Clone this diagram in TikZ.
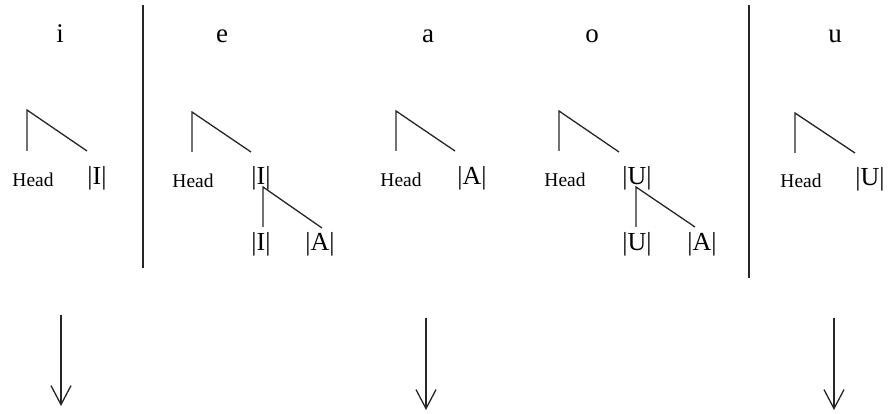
\documentclass[tikz,border=0pt]{standalone}
\usepackage{fontspec}
\setmainfont{Liberation Serif}
\usetikzlibrary{arrows.meta}
\begin{document}
\begin{tikzpicture}[x=1pt,y=-1pt,
  ln/.style={line width=1.3pt,draw=black!85},
  vow/.style={inner sep=0pt,anchor=base,font=\fontsize{27}{30}\selectfont},
  elem/.style={inner sep=0pt,anchor=base,font=\fontsize{26}{30}\selectfont},
  headlbl/.style={inner sep=0pt,anchor=base,font=\fontsize{19.5}{22}\selectfont},
  arr/.style={line width=1.3pt,draw=black!85,-{Straight Barb[length=19pt,width=20pt,line width=1.3pt]}}]
\useasboundingbox (0,0) rectangle (889,414);
% vowel labels
\node[vow] (vi) at (60,43) {i};
\node[vow] (ve) at (222,43) {e};
\node[vow] (va) at (428,43) {a};
\node[vow] (vo) at (592,43) {o};
\node[vow] (vu) at (835,43) {u};
% separators
\coordinate (s1t) at (143,5); \coordinate (s1b) at (143,268);
\coordinate (s2t) at (749,5); \coordinate (s2b) at (749,278);
\draw[ln] (s1t) -- (s1b);
\draw[ln] (s2t) -- (s2b);
% tree i
\coordinate (iT) at (27,110); \coordinate (iL) at (27,151); \coordinate (iR) at (87,151);
\draw[ln] (iL) -- (iT) -- (iR);
\node[headlbl] (iH) at (33,187) {Head};
\node[elem] (iE) at (97,185) {|I|};
% tree e
\coordinate (eT) at (192,112); \coordinate (eL) at (192,152); \coordinate (eR) at (251,152);
\draw[ln] (eL) -- (eT) -- (eR);
\node[headlbl] (eH) at (193,188) {Head};
\node[elem] (eE) at (261,185) {|I|};
\coordinate (eS) at (263,187); \coordinate (eSL) at (263,227); \coordinate (eSR) at (322,228);
\draw[ln] (eSL) -- (eS) -- (eSR);
\node[elem] (eE1) at (261,251) {|I|};
\node[elem] (eE2) at (320,251) {|A|};
% tree a
\coordinate (aT) at (396,111); \coordinate (aL) at (396,151); \coordinate (aR) at (455,151);
\draw[ln] (aL) -- (aT) -- (aR);
\node[headlbl] (aH) at (401,187) {Head};
\node[elem] (aE) at (472,185) {|A|};
% tree o
\coordinate (oT) at (559,111); \coordinate (oL) at (559,151); \coordinate (oR) at (619,152);
\draw[ln] (oL) -- (oT) -- (oR);
\node[headlbl] (oH) at (565,187) {Head};
\node[elem] (oE) at (637,185) {|U|};
\coordinate (oS) at (636,187); \coordinate (oSL) at (636,227); \coordinate (oSR) at (695,227);
\draw[ln] (oSL) -- (oS) -- (oSR);
\node[elem] (oE1) at (637,251) {|U|};
\node[elem] (oE2) at (702,251) {|A|};
% tree u
\coordinate (uT) at (795,113); \coordinate (uL) at (795,153); \coordinate (uR) at (855,153);
\draw[ln] (uL) -- (uT) -- (uR);
\node[headlbl] (uH) at (801,188) {Head};
\node[elem] (uE) at (870,186) {|U|};
% arrows
\coordinate (a1t) at (61,315); \coordinate (a1b) at (61,406);
\coordinate (a2t) at (426,318); \coordinate (a2b) at (426,410);
\coordinate (a3t) at (834,318); \coordinate (a3b) at (834,410);
\draw[arr] (a1t) -- (a1b);
\draw[arr] (a2t) -- (a2b);
\draw[arr] (a3t) -- (a3b);
\end{tikzpicture}
\end{document}
